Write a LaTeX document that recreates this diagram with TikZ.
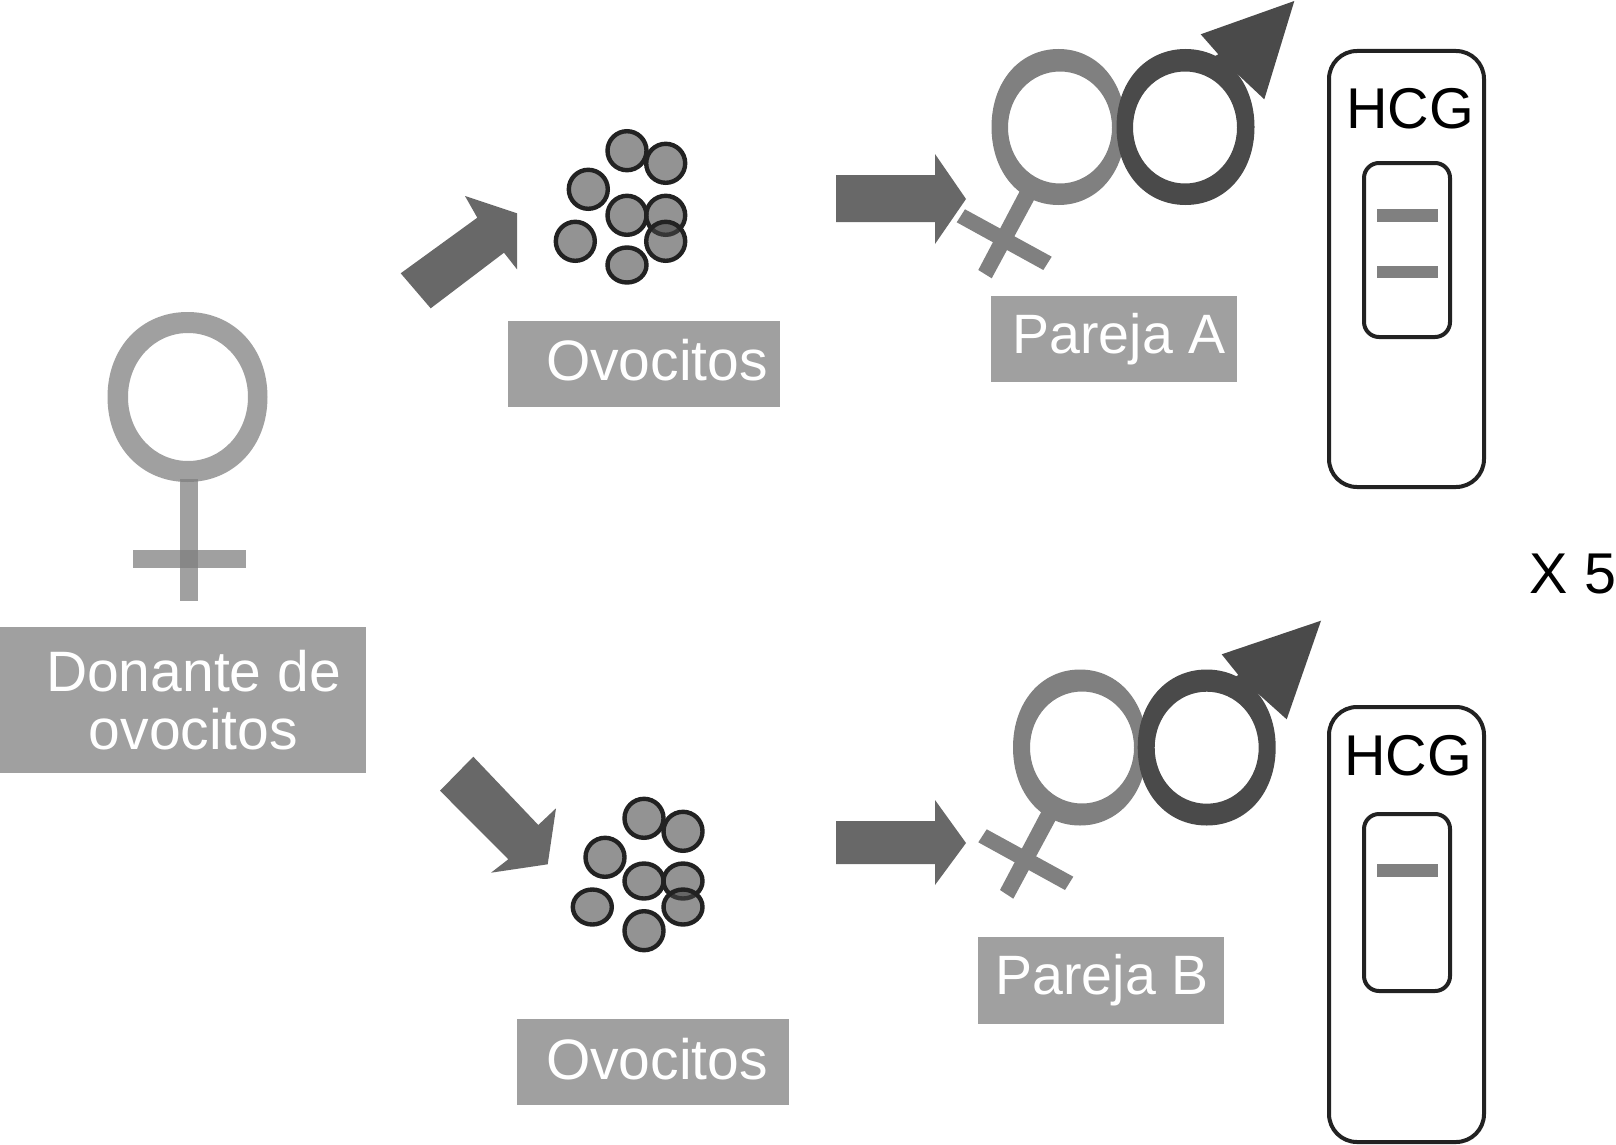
\documentclass[tikz,border=0pt]{standalone}
\usepackage{fontspec}
\setmainfont{Liberation Sans}
\definecolor{boxgray}{HTML}{A0A0A0}
\definecolor{arrowgray}{HTML}{686868}
\definecolor{fem}{HTML}{808080}
\definecolor{mal}{HTML}{4A4A4A}
\definecolor{eggfill}{gray}{0.275}
\definecolor{eggline}{HTML}{222222}
\definecolor{cardline}{HTML}{222222}
\tikzset{
 lab/.style={font=\fontsize{57}{58}\selectfont,text=white,align=center,inner sep=0pt},
 labsmall/.style={font=\fontsize{55.5}{58}\selectfont,text=white,align=center,inner sep=0pt},
 blk/.style={font=\fontsize{57.5}{58}\selectfont,text=black,inner sep=0pt},
 box/.style={fill=boxgray,draw=none},
 bigarrow/.style={fill=arrowgray,draw=none},
 egg/.style={draw=eggline,line width=4.4pt,fill=eggfill,fill opacity=.58},
 card/.style={draw=cardline,line width=4pt,fill=none},
 bar/.style={fill=fem,draw=none},
 donor/.style={fill={rgb,255:red,127;green,127;blue,127},fill opacity=.74,draw=none},
}
% rounded ring outline: centre x, centre y, radius x, radius y, handle length
\newcommand{\blobp}[5]{(#1+#3,#2) .. controls (#1+#3,#2+#4*#5) and (#1+#3*#5,#2+#4) .. (#1,#2+#4) .. controls (#1-#3*#5,#2+#4) and (#1-#3,#2+#4*#5) .. (#1-#3,#2) .. controls (#1-#3,#2-#4*#5) and (#1-#3*#5,#2-#4) .. (#1,#2-#4) .. controls (#1+#3*#5,#2-#4) and (#1+#3,#2-#4*#5) .. (#1+#3,#2) -- cycle}
\newcommand{\eggs}[8]{%
 \draw[egg] #1 circle[radius=19.5pt];
 \draw[egg] #2 circle[radius=19.5pt];
 \draw[egg] #3 circle[radius=19.5pt];
 \draw[egg] #4;
 \draw[egg] #5;
 \draw[egg] #6;
 \draw[egg] #7;
 \draw[egg] #8;
}
\begin{document}
\begin{tikzpicture}[x=1pt,y=-1pt]
\useasboundingbox (0,0) rectangle (1616,1145);
\fill[white] (0,0) rectangle (1616,1145);
% donor symbol
\fill[donor,even odd rule] \blobp{187.5}{397}{80}{85}{.58} \blobp{188}{397}{60}{64}{.56};
\fill[donor] (180,479) rectangle (198,601);
\fill[donor] (133,550) rectangle (246,568);
% boxes and labels
\fill[box] (0,627) rectangle (366,773);
\node[lab] (donante) at (193.5,700.5) {Donante de\\ovocitos};
\fill[box] (508,321) rectangle (780,407);
\node[lab] (ovoA) at (657,360) {Ovocitos};
\fill[box] (517,1019) rectangle (789,1105);
\node[lab] (ovoB) at (657,1059) {Ovocitos};
\fill[box] (991,296) rectangle (1237,382);
\node[labsmall] (parA) at (1119,339) {Pareja A};
\fill[box] (978,937) rectangle (1224,1024);
\node[labsmall] (parB) at (1102,980) {Pareja B};
% arrows
\fill[bigarrow] (400.7,273.3)--(430.7,308.3)--(504,252.7)--(517,269.3)--(517,213.3)--(465,196)--(477.3,217.7)--cycle;
\fill[bigarrow] (440,790.7)--(473.3,756.7)--(538.3,825)--(556,808.3)--(547.7,864.3)--(491,872.7)--(508.3,859.3)--cycle;
\fill[bigarrow] (836,175)--(935,175)--(935,154)--(966,199)--(935,244)--(935,222)--(836,222)--cycle;
\fill[bigarrow] (836,821)--(935,821)--(935,800)--(966,843)--(935,885)--(935,864)--(836,864)--cycle;
% eggs top
\eggs{(627,150.7)}{(665.7,163.3)}{(588.3,189.3)}{(627,215.3) circle[radius=19.5pt]}{(665.7,215.3) circle[radius=19.5pt]}{(665.7,241.3) circle[radius=19.5pt]}{(575.3,241.3) circle[radius=19.5pt]}{(627,265) ellipse[x radius=19.5pt,y radius=17.5pt]}
% eggs bottom
\eggs{(644,818.3)}{(683,831.3)}{(605,857.3)}{(644,881) ellipse[x radius=19.5pt,y radius=17.5pt]}{(683,881) ellipse[x radius=19.5pt,y radius=17.5pt]}{(683,907) ellipse[x radius=19.5pt,y radius=17.5pt]}{(592.3,907) ellipse[x radius=19.5pt,y radius=17.5pt]}{(644,930.7) circle[radius=19.5pt]}
% couple A
\fill[fem,even odd rule] \blobp{1058.5}{127}{67}{78}{.58} \blobp{1060}{127.5}{52}{56}{.56};
\fill[fem] (1020,190.7)--(1034,200)--(991.7,278.3)--(978.3,270)--cycle;
\fill[fem] (956.7,222.3)--(965,209.3)--(1051.7,256.7)--(1043.3,270)--cycle;
\fill[mal,even odd rule] \blobp{1185.5}{127}{69}{78}{.58} \blobp{1185}{127.5}{52}{56}{.56};
\fill[mal] (1200.7,34.3)--(1294.3,1)--(1264.3,99.3)--(1236,72.7)--(1226,84)--(1208,60)--(1218.3,54.3)--cycle;
% couple B
\fill[fem,even odd rule] \blobp{1080}{747.5}{67}{78}{.58} \blobp{1082}{747.5}{52}{56}{.56};
\fill[fem] (1041.7,811)--(1055.7,820)--(1013.3,898.7)--(1000,890)--cycle;
\fill[fem] (978.3,842.3)--(986.7,829.3)--(1073.3,876.7)--(1065,890)--cycle;
\fill[mal,even odd rule] \blobp{1206.7}{747.5}{69}{78}{.58} \blobp{1206.7}{747.7}{52}{56}{.56};
\fill[mal] (1221.7,654.3)--(1321,620.7)--(1286.7,719.3)--(1257.7,693.3)--(1248,704)--(1230,680)--(1238.3,675)--cycle;
% test cards
\draw[card,rounded corners=28pt] (1329,51) rectangle (1484,487);
\draw[card,rounded corners=15pt] (1364,163) rectangle (1450,337);
\fill[bar] (1377,209) rectangle (1438,222);
\fill[bar] (1377,266) rectangle (1438,278);
\node[blk] (hcgA) at (1410,109) {HCG};
\draw[card,rounded corners=28pt] (1329,707) rectangle (1484,1142);
\draw[card,rounded corners=15pt] (1364,814) rectangle (1450,991);
\fill[bar] (1377,864) rectangle (1438,877);
\node[blk] (hcgB) at (1408,756) {HCG};
\node[blk] (xfive) at (1573,574) {X 5};
\end{tikzpicture}
\end{document}
